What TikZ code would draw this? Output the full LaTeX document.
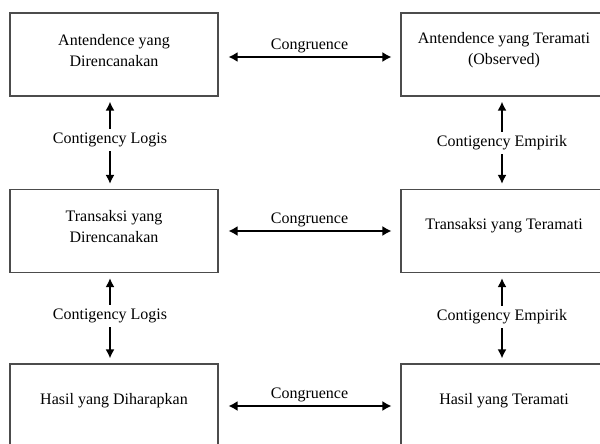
\documentclass[tikz,border=0pt]{standalone}
\usepackage{fontspec}
\setmainfont{Liberation Serif}
\usetikzlibrary{arrows.meta}
\begin{document}
\begin{tikzpicture}[x=1pt,y=-1pt,
  txt/.style={font=\fontsize{16}{21}\selectfont, text=black},
  box/.style={draw=black!70, line width=1.1pt, minimum width=208pt,
    minimum height=83pt, inner sep=0pt},
  boxtext/.style={txt, align=center, inner sep=0pt},
  lab/.style={txt, inner sep=4pt},
  tip/.style={Latex[length=9pt,width=9.5pt]},
  arr/.style={line width=2.2pt, -{Latex[length=9pt,width=9pt]}, shorten >=5pt},
  darr/.style={line width=1.6pt, {Latex[length=9pt,width=10pt]}-{Latex[length=9pt,width=10pt]},
    shorten <=10pt, shorten >=9pt}]
\useasboundingbox (0,0) rectangle (600,444);
\clip (0,0) rectangle (600,444);
% boxes
\node[box] (A1) at (114,54.5) {};
\node[box, minimum width=206pt] (A2) at (504,54.5) {};
\node[box] (T1) at (114,231) {};
\node[box, minimum width=206pt] (T2) at (504,231) {};
\node[box, minimum height=84pt] (H1) at (114,406) {};
\node[box, minimum width=206pt, minimum height=84pt] (H2) at (504,406) {};
% box texts
\node[boxtext] (A1t) at ([yshift=4pt]A1.center) {Antendence yang\\Direncanakan};
\node[boxtext] (A2t) at ([yshift=4pt]A2.center) {Antendence yang Teramati\\(Observed)};
\node[boxtext] (T1t) at ([yshift=4pt]T1.center) {Transaksi yang\\Direncanakan};
\node[boxtext] (T2t) at ([yshift=5pt]T2.center) {Transaksi yang Teramati};
\node[boxtext] (H1t) at ([yshift=5pt]H1.center) {Hasil yang Diharapkan};
\node[boxtext] (H2t) at ([yshift=5pt]H2.center) {Hasil yang Teramati};
% contingency labels
\node[lab] (L1) at (110,140) {Contigency Logis};
\node[lab] (L2) at (110,316) {Contigency Logis};
\node[lab] (E1) at (502,143) {Contigency Empirik};
\node[lab] (E2) at (502,317) {Contigency Empirik};
% vertical arrows
\draw[arr] (L1.north) -- (L1.north |- A1.south);
\draw[arr] (L1.south) -- (L1.south |- T1.north);
\draw[arr] (L2.north) -- (L2.north |- T1.south);
\draw[arr] (L2.south) -- (L2.south |- H1.north);
\draw[arr] (E1.north) -- (E1.north |- A2.south);
\draw[arr] (E1.south) -- (E1.south |- T2.north);
\draw[arr] (E2.north) -- (E2.north |- T2.south);
\draw[arr] (E2.south) -- (E2.south |- H2.north);
% congruence arrows
\draw[darr] ([yshift=-2.5pt]A1.east) -- node[lab, above, inner sep=3pt] (C1) {Congruence} ([yshift=-2.5pt]A2.west);
\draw[darr] (T1.east) -- node[lab, above, inner sep=3pt] (C2) {Congruence} (T2.west);
\draw[darr] (H1.east) -- node[lab, above, inner sep=3pt] (C3) {Congruence} (H2.west);
\end{tikzpicture}
\end{document}
